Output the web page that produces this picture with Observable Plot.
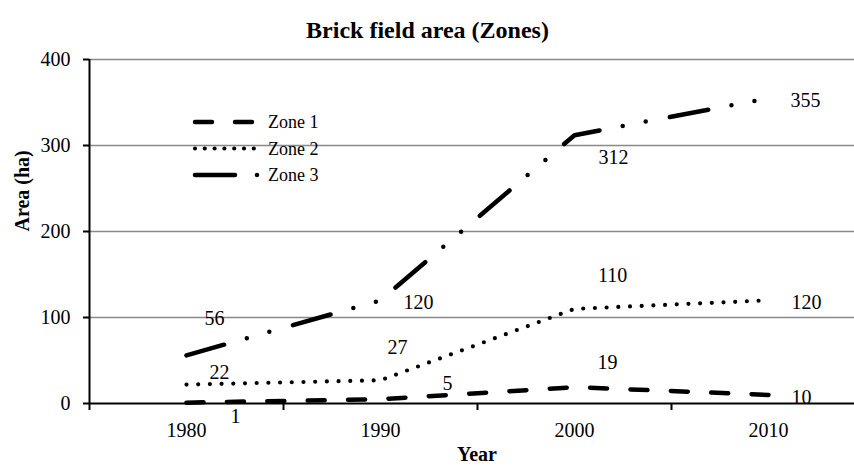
<!DOCTYPE html>
<html><head><meta charset="utf-8">
<script src="https://cdn.jsdelivr.net/npm/d3@7"></script>
<script src="https://cdn.jsdelivr.net/npm/@observablehq/plot@0.6"></script>
<style>
body{margin:0;background:#fff;}
#chart{position:relative;width:854px;height:473px;font-family:"Liberation Serif","Times New Roman",serif;}
#legend{position:absolute;left:0;top:0;pointer-events:none;}
</style></head><body><div id="chart"></div>
<script>
// ---- data ----
const years = [1980, 1990, 2000, 2010];
const zoneNames = ["Zone 1", "Zone 2", "Zone 3"];
const zone1 = [1, 5, 19, 10];
const zone2 = [22, 27, 110, 120];
const zone3 = [56, 120, 312, 355];
const yTicks = [0, 100, 200, 300, 400];
const xTickMarks = [1975, 1985, 1995, 2005];
const title = "Brick field area (Zones)";
const xTitle = "Year";
const yTitle = "Area (ha)";

const series = [zone1, zone2, zone3];
const rows = zoneNames.flatMap((z, i) => years.map((yr, j) => ({zone: z, year: yr, area: series[i][j], j})));

// ---- styles ----
const FONT = "'Liberation Serif','Times New Roman',serif";
const styles = {
  "Zone 1": {dash: "17,23.4", width: 4.5},
  "Zone 2": {dash: "0,11.7", width: 4.2},
  "Zone 3": {dash: "39,23.7,0,23.4,0,24.6", width: 4.5}
};
const legendDash = {"Zone 1": "17,23", "Zone 2": "0,9.8", "Zone 3": "40,22,0,100"};
const labelNudge = {
  "Zone 1": [[49, 14], [67, -16], [33, -25], [33, 3]],
  "Zone 2": [[33, -12], [17, -33], [38, -33], [38, 2]],
  "Zone 3": [[28, -37], [38, 2], [39, 22], [37, 2]]
};

const W = 854, H = 473, ML = 89, MR = 0, MT = 59, MB = 70;
const pxPerYear = 19.4;
const xDomain = [xTickMarks[0], xTickMarks[0] + (W - ML - MR) / pxPerYear];

const plot = Plot.plot({
  width: W, height: H,
  marginLeft: ML, marginRight: MR, marginTop: MT, marginBottom: MB,
  style: {fontFamily: FONT, fontSize: "20px", color: "#000", background: "#fff"},
  x: {type: "linear", domain: xDomain},
  y: {domain: [0, 400]},
  marks: [
    Plot.gridY(yTicks.filter(d => d > 0), {stroke: "#898989", strokeOpacity: 1, strokeWidth: 1.4}),
    Plot.ruleX([xDomain[0]], {y1: 0, y2: 400, stroke: "#000", strokeWidth: 2}),
    Plot.ruleY([0], {stroke: "#000", strokeWidth: 2}),
    Plot.axisY(yTicks, {tickSize: 6, tickPadding: 13, strokeWidth: 2, label: null, tickFormat: d => String(d)}),
    Plot.axisX(xTickMarks, {tickSize: 7, strokeWidth: 2, label: null, tickFormat: () => ""}),
    Plot.axisX(years, {tickSize: 0, tickPadding: 19, label: null, tickFormat: d => String(d)}),
    ...zoneNames.map(z => Plot.line(rows.filter(r => r.zone === z), {
      x: "year", y: "area", stroke: "#000",
      strokeWidth: styles[z].width, strokeDasharray: styles[z].dash,
      strokeLinecap: "round", strokeLinejoin: "round"
    })),
    ...rows.map(r => Plot.text([r], {
      x: "year", y: "area", text: d => String(d.area),
      dx: labelNudge[r.zone][r.j][0], dy: labelNudge[r.zone][r.j][1],
      fontSize: 20, fill: "#000"
    })),
    Plot.text([title], {text: d => d, frameAnchor: "top", dx: -44.5, dy: -39, fontWeight: "bold", fontSize: 24}),
    Plot.text([xTitle], {text: d => d, frameAnchor: "bottom", dx: 5, dy: 57, fontWeight: "bold", fontSize: 20}),
    Plot.text([yTitle], {text: d => d, frameAnchor: "left", dx: -67, rotate: -90, fontWeight: "bold", fontSize: 20})
  ]
});
document.getElementById("chart").appendChild(plot);

// ---- legend (overlay) ----
const legendX0 = 195, legendX1 = 254, legendTextX = 268, legendY0 = 122, legendStep = 26.5;
const leg = d3.select("#chart").append("svg")
  .attr("id", "legend").attr("width", W).attr("height", H);
zoneNames.forEach((z, i) => {
  const y = legendY0 + i * legendStep;
  leg.append("line")
    .attr("x1", legendX0).attr("x2", z === "Zone 3" ? 258 : legendX1)
    .attr("y1", y).attr("y2", y)
    .attr("stroke", "#000").attr("stroke-width", styles[z].width)
    .attr("stroke-linecap", "round").attr("stroke-dasharray", legendDash[z]);
  leg.append("text")
    .attr("x", legendTextX).attr("y", y).attr("dy", "0.35em")
    .attr("font-family", FONT).attr("font-size", 18)
    .text(z);
});
</script>
</body></html>
